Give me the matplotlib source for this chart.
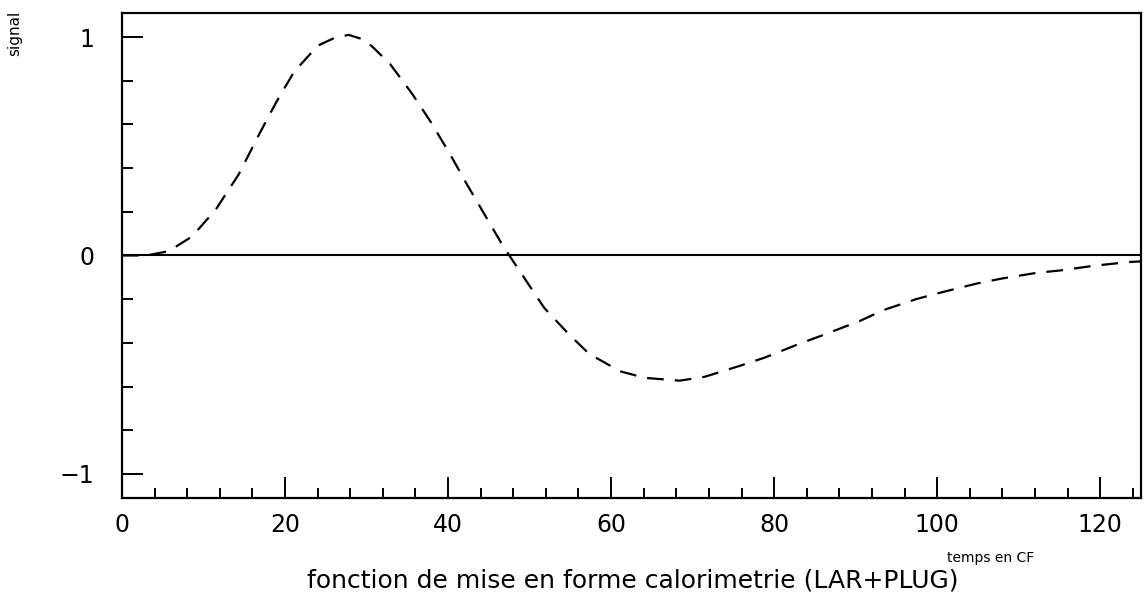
import matplotlib
matplotlib.use("Agg")
import matplotlib.pyplot as plt
from matplotlib.ticker import MultipleLocator, FixedLocator

# shaping function
temps = [0, 3, 5.75, 8.6, 11.5, 14.3, 16.9, 18.9, 21.1, 24.0, 26.0, 27.8,
         29.5, 30.6, 32.9, 35.6, 37.9, 40.3, 42.4, 44.6, 46.8, 49.3, 51.8,
         54.8, 57.3, 61.1, 64.1, 68.4, 71.5, 75.8, 78.8, 82.7, 85.8, 90.5,
         93.4, 97.4, 100.4, 104.9, 108.0, 112.1, 115.2, 119.2, 123.5, 125]
signal = [0, 0, 0.02, 0.087, 0.21, 0.37, 0.56, 0.70, 0.84, 0.96, 0.995, 1.01,
          0.99, 0.96, 0.876, 0.74, 0.61, 0.46, 0.32, 0.18, 0.04, -0.10, -0.24,
          -0.36, -0.45, -0.53, -0.56, -0.573, -0.555, -0.505, -0.468, -0.41,
          -0.367, -0.30, -0.25, -0.20, -0.17, -0.128, -0.105, -0.08, -0.068,
          -0.047, -0.03, -0.027]

x_major = [0, 20, 40, 60, 80, 100, 120]
y_major = [-1, 0, 1]
y_labels = ["\u22121", "0", "1"]

fig = plt.figure(figsize=(11.44, 6.07), dpi=100)
ax = fig.add_axes([0.1066, 0.1796, 0.8908, 0.799])

ax.axhline(0, color="black", lw=1.5)
line, = ax.plot(temps, signal, color="black", lw=1.6, linestyle="--")
line.set_dashes((7.5, 5))

ax.set_xlim(0, 125)
ax.set_ylim(-1.11, 1.11)

ax.xaxis.set_major_locator(FixedLocator(x_major))
ax.xaxis.set_minor_locator(MultipleLocator(4))
ax.yaxis.set_major_locator(FixedLocator(y_major))
ax.set_yticklabels(y_labels)
ax.yaxis.set_minor_locator(MultipleLocator(0.2))

ax.tick_params(axis="both", which="both", direction="in", color="black",
               width=1.4, labelsize=17)
ax.tick_params(axis="x", which="major", length=15, pad=11)
ax.tick_params(axis="x", which="minor", length=7)
ax.tick_params(axis="y", which="major", length=15, pad=20)
ax.tick_params(axis="y", which="minor", length=8)

for s in ax.spines.values():
    s.set_linewidth(1.6)

fig.text(0.013, 0.945, "signal", rotation=90, fontsize=11, ha="center", va="center")
fig.text(0.866, 0.08, "temps en CF", fontsize=10, ha="center", va="center")
fig.text(0.553, 0.043, "fonction de mise en forme calorimetrie (LAR+PLUG)",
         fontsize=18, ha="center", va="center")

fig.savefig("out.png", dpi=100)
